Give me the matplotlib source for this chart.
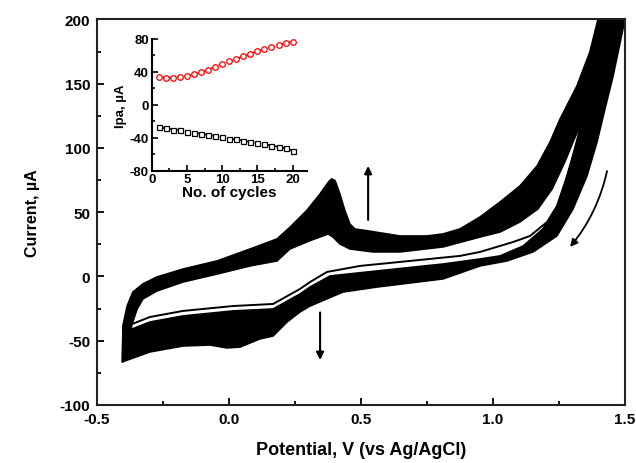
import matplotlib
matplotlib.use("Agg")
import matplotlib.pyplot as plt
from matplotlib.ticker import MultipleLocator

plt.rcParams['font.family'] = ['Liberation Sans', 'DejaVu Sans']
plt.rcParams['font.weight'] = 'bold'
plt.rcParams['axes.unicode_minus'] = False

# ---------------- main CV data (potential V, current uA) ----------------
# forward (anodic) sweep, last cycle: upper edge of the upper band
E_fwd_last = [-0.402, -0.402, -0.386, -0.364, -0.326, -0.273, -0.174, -0.045, 0.080, 0.182,
              0.231, 0.294, 0.345, 0.376, 0.389, 0.402, 0.420, 0.439, 0.458, 0.477,
              0.522, 0.559, 0.648, 0.750, 0.811, 0.875, 0.951, 1.027, 1.102, 1.167,
              1.216, 1.254, 1.318, 1.367, 1.398, 1.430]
I_fwd_last = [-66.5, -38.5, -23.0, -12.1, -5.8, -0.4, 5.8, 12.1, 21.4, 29.2,
              38.3, 51.2, 64.2, 73.3, 75.9, 74.5, 64.2, 51.2, 40.8, 36.9,
              35.6, 34.4, 31.5, 31.5, 33.1, 37.0, 46.3, 58.0, 70.4, 86.0,
              104.6, 122.5, 148.2, 174.7, 200.3, 240.0]
# forward sweep, first cycle: lower edge of the upper band
E_fwd_first = [-0.367, -0.348, -0.326, -0.273, -0.174, -0.045, 0.080, 0.182, 0.231, 0.307,
               0.376, 0.395, 0.420, 0.458, 0.545, 0.648, 0.811, 0.951, 1.027, 1.102,
               1.170, 1.224, 1.272, 1.308, 1.337, 1.386, 1.428, 1.451, 1.470]
I_fwd_first = [-37.0, -25.3, -17.5, -11.3, -4.3, 1.9, 8.2, 12.1, 21.4, 27.9,
               33.1, 30.5, 25.3, 21.4, 19.1, 19.1, 23.0, 30.7, 34.6, 42.4,
               52.5, 68.1, 89.1, 107.0, 120.2, 153.7, 184.8, 200.3, 225.0]
# reverse (cathodic) sweep, last cycle: lower/right edge of the lower band
E_rev_last = [1.520, 1.500, 1.455, 1.424, 1.394, 1.356, 1.303, 1.242, 1.152, 1.053,
              0.951, 0.811, 0.561, 0.432, 0.307, 0.269, 0.220, 0.167, 0.117, 0.042,
              -0.008, -0.072, -0.174, -0.299, -0.405]
I_rev_last = [225.0, 200.3, 156.0, 130.3, 104.6, 78.2, 52.5, 31.5, 19.1, 12.1,
              8.2, -1.9, -8.2, -12.1, -23.0, -27.6, -35.4, -46.3, -48.6, -54.9,
              -55.6, -53.3, -54.1, -58.7, -66.5]
# reverse sweep, second cycle: upper edge of the lower band
E_rev_2 = [1.470, 1.445, 1.386, 1.337, 1.311, 1.280, 1.242, 1.189, 1.114, 1.027,
           0.951, 0.811, 0.561, 0.383, 0.307, 0.269, 0.167, 0.015, -0.174, -0.299,
           -0.367, -0.402]
I_rev_2 = [225.0, 200.3, 153.7, 120.2, 99.2, 78.2, 54.9, 37.0, 23.7, 16.0,
           13.6, 9.7, 4.3, 0.4, -8.2, -13.6, -25.3, -26.8, -30.7, -35.4,
           -40.8, -44.7]
# reverse sweep, first cycle (separate thin line)
E_rev_first = [1.451, 1.386, 1.337, 1.300, 1.254, 1.205, 1.140, 1.076, 0.951, 0.875,
               0.686, 0.496, 0.371, 0.307, 0.269, 0.167, 0.015, -0.174, -0.299, -0.367]
I_rev_first = [200.3, 153.7, 120.2, 92.0, 57.9, 42.4, 31.5, 26.8, 19.1, 16.0,
               12.1, 8.2, 3.5, -4.3, -9.7, -21.4, -23.0, -26.8, -31.5, -37.0]

# ---------------- inset data ----------------
cycles = list(range(1, 21))
ipa_anodic = [33.5, 33.0, 33.0, 34.0, 35.0, 37.0, 39.5, 42.5, 46.0, 50.0,
              53.0, 56.0, 59.0, 62.0, 65.0, 67.5, 70.0, 73.0, 75.0, 76.5]
ipa_cathodic = [-27.0, -28.5, -30.0, -31.0, -32.5, -34.0, -35.0, -36.5, -38.0, -39.5,
                -41.0, -42.0, -43.5, -45.0, -46.5, -48.0, -49.5, -51.0, -53.0, -55.5]

W, H = 636, 464
fig = plt.figure(figsize=(W / 100, H / 100), dpi=100)
ax = fig.add_axes([97 / W, 1 - 406 / H, (625 - 97) / W, (406 - 20.4) / H])

# upper (anodic) band
ax.fill(E_fwd_last + E_fwd_first[::-1], I_fwd_last + I_fwd_first[::-1],
        color='black', lw=1.2, ec='black', joinstyle='round')
# lower (cathodic) band
ax.fill(E_rev_2 + E_rev_last[::-1], I_rev_2 + I_rev_last[::-1],
        color='black', lw=1.2, ec='black', joinstyle='round')
# first reverse sweep
ax.plot(E_rev_first, I_rev_first, color='black', lw=1.4, solid_joinstyle='round')

ax.set_xlim(-0.5, 1.5)
ax.set_ylim(-100, 200)
ax.xaxis.set_major_locator(MultipleLocator(0.5))
ax.xaxis.set_minor_locator(MultipleLocator(0.25))
ax.yaxis.set_major_locator(MultipleLocator(50))
ax.yaxis.set_minor_locator(MultipleLocator(25))
ax.tick_params(which='both', direction='in', top=False, right=False, width=1.3)
ax.tick_params(which='major', length=5, labelsize=11, pad=5)
ax.tick_params(which='minor', length=3)
for s in ax.spines.values():
    s.set_linewidth(1.5)
    s.set_color('#222222')
ax.set_xlabel('Potential, V (vs Ag/AgCl)', fontsize=13, fontweight='bold', labelpad=11)
ax.set_ylabel('Current, µA', fontsize=11.5, fontweight='bold', labelpad=14)

# arrows
arr = dict(arrowstyle='-|>', color='black', lw=1.5, mutation_scale=11, shrinkA=0, shrinkB=0)
ax.annotate('', xy=(0.527, 86), xytext=(0.527, 44), arrowprops=arr)
ax.annotate('', xy=(0.345, -65), xytext=(0.345, -28), arrowprops=arr)
ax.annotate('', xy=(1.292, 23), xytext=(1.432, 82),
            arrowprops=dict(arr, connectionstyle='arc3,rad=-0.12', lw=1.3))

# inset
axi = fig.add_axes([151.7 / W, 1 - 171.7 / H, (306.7 - 151.7) / W, (171.7 - 40) / H])
axi.plot(cycles, ipa_anodic, color='red', ls='--', lw=1.2, marker='o', ms=4,
         mfc='white', mec='red', mew=0.9)
axi.plot(cycles, ipa_cathodic, color='black', ls='--', lw=1.2, marker='s', ms=3.6,
         mfc='white', mec='black', mew=0.9)
axi.set_xlim(0, 22)
axi.set_ylim(-80, 80)
axi.xaxis.set_major_locator(MultipleLocator(5))
axi.xaxis.set_minor_locator(MultipleLocator(2.5))
axi.yaxis.set_major_locator(MultipleLocator(40))
axi.yaxis.set_minor_locator(MultipleLocator(20))
axi.spines['top'].set_visible(False)
axi.spines['right'].set_visible(False)
for s in ('left', 'bottom'):
    axi.spines[s].set_linewidth(1.5)
axi.tick_params(which='both', direction='in', top=False, right=False, width=1.2)
axi.tick_params(which='major', length=4, labelsize=9.5, pad=2)
axi.tick_params(which='minor', length=2.5)
axi.set_xlabel('No. of cycles', fontsize=11, fontweight='bold', labelpad=0)
axi.set_ylabel('Ipa, µA', fontsize=9.5, fontweight='bold', labelpad=2)

fig.savefig('out.png', dpi=100)
